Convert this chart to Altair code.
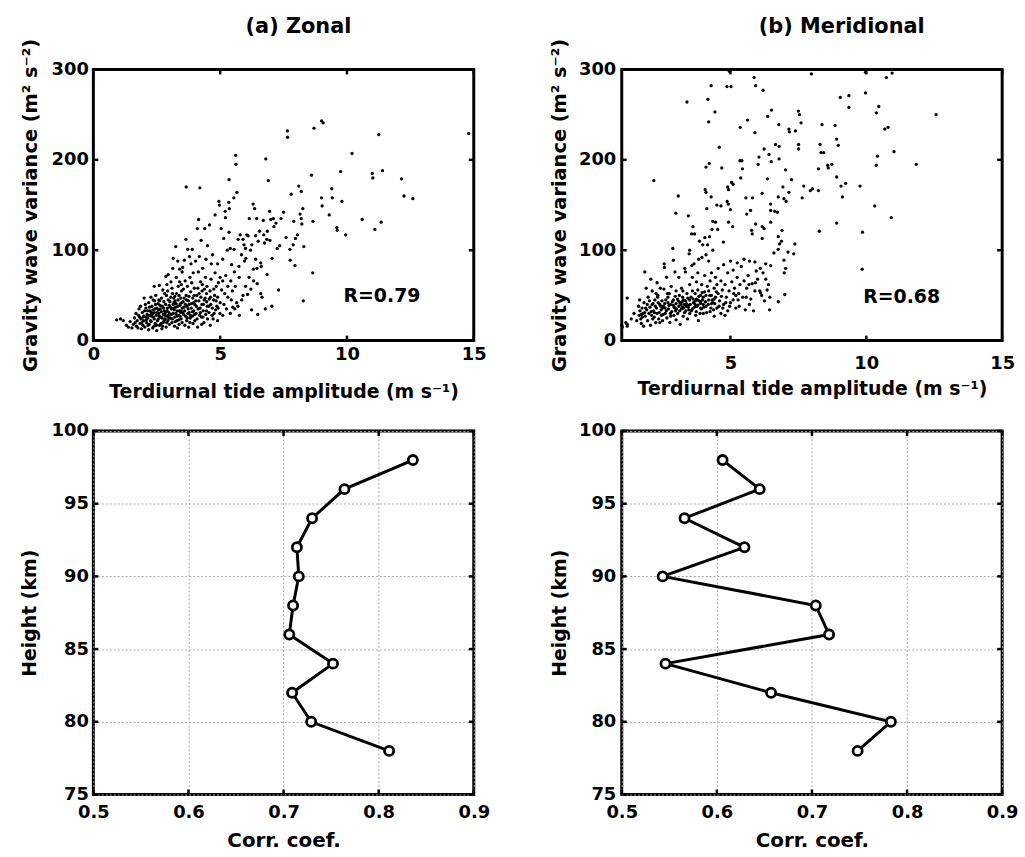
import altair as alt
import pandas as pd

FONT = "DejaVu Sans"

# ---------------- data ----------------
zonal_points = [
    (0.92, 23), (1.07, 24), (1.18, 22), (1.3, 17), (1.38, 15), (1.45, 21), (1.52, 14), (1.58, 18),
    (1.62, 25), (1.65, 20), (1.7, 16), (1.73, 22), (1.78, 28), (1.8, 35), (1.84, 19), (1.88, 24),
    (1.9, 13), (1.93, 31), (1.95, 17), (1.98, 22), (2.0, 47), (1.99, 27), (1.68, 30), (1.76, 14),
    (1.86, 38), (1.96, 26),
    (2.03, 15), (2.07, 36), (2.1, 20), (2.12, 29), (2.15, 25), (2.18, 42), (2.2, 18), (2.23, 33),
    (2.26, 22), (2.3, 27), (2.31, 38), (2.34, 14), (2.36, 45), (2.4, 24), (2.41, 31), (2.44, 19),
    (2.46, 50), (2.48, 28), (2.5, 36), (2.5, 11), (2.05, 40), (2.14, 33), (2.28, 21), (2.39, 16),
    (2.4, 60), (2.22, 28), (2.33, 30), (2.45, 40), (2.08, 26), (2.18, 12), (2.27, 48), (2.43, 35),
    (2.53, 22), (2.55, 41), (2.58, 30), (2.6, 61), (2.61, 17), (2.64, 35), (2.66, 26), (2.69, 47),
    (2.7, 13), (2.72, 38), (2.75, 20), (2.76, 29), (2.8, 33), (2.81, 52), (2.83, 24), (2.85, 40),
    (2.86, 71), (2.87, 15), (2.9, 27), (2.9, 62), (2.92, 36), (2.94, 22), (2.95, 45), (2.95, 73),
    (2.98, 31), (3.0, 18), (2.62, 44), (2.74, 56), (2.84, 31), (2.96, 28), (2.57, 34), (2.67, 19),
    (2.78, 43), (2.88, 50), (2.99, 39), (2.71, 25), (2.93, 55), (2.6, 27),
    (3.03, 25), (3.05, 48), (3.08, 35), (3.1, 20), (3.1, 58), (3.13, 80), (3.14, 30), (3.15, 91),
    (3.18, 42), (3.2, 16), (3.21, 26), (3.24, 37), (3.25, 104), (3.28, 52), (3.3, 22), (3.31, 33),
    (3.33, 88), (3.34, 45), (3.36, 28), (3.38, 18), (3.4, 65), (3.4, 79), (3.41, 39), (3.44, 31),
    (3.46, 24), (3.48, 55), (3.5, 36), (3.5, 76), (3.5, 20), (3.15, 40), (3.25, 30), (3.35, 60),
    (3.45, 47), (3.06, 65), (3.12, 52), (3.22, 44), (3.27, 70), (3.32, 14), (3.38, 50), (3.43, 41),
    (3.47, 62), (3.19, 34),
    (3.52, 81), (3.54, 43), (3.56, 29), (3.59, 89), (3.6, 33), (3.61, 17), (3.65, 112), (3.66, 170),
    (3.66, 50), (3.69, 38), (3.7, 25), (3.71, 60), (3.72, 101), (3.75, 44), (3.78, 31), (3.79, 93),
    (3.8, 20), (3.81, 70), (3.84, 54), (3.86, 36), (3.9, 101), (3.9, 27), (3.92, 47), (3.94, 75),
    (3.96, 33), (3.98, 58), (4.0, 22), (4.0, 40), (3.58, 47), (3.74, 35), (3.85, 85), (3.95, 42),
    (3.55, 57), (3.63, 40), (3.68, 22), (3.77, 49), (3.83, 28), (3.88, 64), (3.93, 19), (3.97, 50),
    (3.62, 66), (3.76, 15),
    (4.03, 88), (4.05, 30), (4.08, 50), (4.1, 124), (4.11, 15), (4.15, 134), (4.16, 44), (4.18, 93),
    (4.2, 169), (4.21, 36), (4.23, 65), (4.25, 111), (4.26, 26), (4.29, 55), (4.31, 80), (4.34, 40),
    (4.36, 20), (4.39, 124), (4.41, 47), (4.44, 90), (4.46, 33), (4.48, 60), (4.5, 24), (4.5, 105),
    (4.14, 76), (4.3, 62), (4.42, 70), (4.27, 18), (4.46, 52), (4.06, 38), (4.12, 58), (4.19, 28),
    (4.24, 48), (4.33, 33), (4.38, 57), (4.47, 43),
    (4.55, 38), (4.58, 128), (4.6, 55), (4.61, 17), (4.64, 68), (4.68, 28), (4.7, 95), (4.74, 45),
    (4.8, 139), (4.8, 75), (4.82, 34), (4.85, 60), (4.9, 22), (4.9, 85), (4.95, 154), (4.97, 150),
    (5.0, 42), (5.0, 70), (4.65, 85), (4.75, 57), (4.9, 48), (4.99, 30), (4.57, 46), (4.63, 40),
    (4.72, 24), (4.78, 50), (4.87, 38), (4.93, 64),
    (5.04, 124), (5.06, 56), (5.1, 90), (5.1, 28), (5.14, 113), (5.15, 40), (5.2, 143), (5.21, 136),
    (5.22, 72), (5.25, 35), (5.28, 100), (5.3, 48), (5.34, 153), (5.36, 146), (5.35, 120), (5.35, 178),
    (5.4, 102), (5.42, 66), (5.4, 30), (5.45, 84), (5.48, 55), (5.5, 37), (5.1, 66), (5.3, 60),
    (5.18, 52), (5.44, 45),
    (5.54, 158), (5.55, 101), (5.56, 76), (5.61, 205), (5.62, 195), (5.6, 60), (5.58, 35), (5.66, 164),
    (5.65, 42), (5.7, 38), (5.71, 112), (5.74, 82), (5.75, 70), (5.79, 117), (5.84, 95), (5.9, 112),
    (5.9, 50), (5.94, 106), (5.96, 88), (6.0, 102), (6.01, 91), (6.0, 60), (5.76, 28), (5.85, 45),
    (6.05, 117), (6.1, 116), (6.08, 51), (6.14, 70), (6.15, 135), (6.2, 100), (6.21, 57), (6.25, 106),
    (6.24, 34), (6.3, 151), (6.31, 79), (6.32, 66), (6.36, 146), (6.4, 116), (6.44, 135), (6.45, 80),
    (6.46, 63), (6.5, 110), (6.48, 29), (6.4, 90),
    (6.55, 121), (6.6, 86), (6.62, 82), (6.6, 52), (6.65, 48), (6.7, 133), (6.72, 117), (6.75, 108),
    (6.8, 201), (6.78, 35), (6.84, 112), (6.86, 121), (6.85, 73), (6.9, 177), (6.95, 143), (6.96, 111),
    (7.0, 134),
    (7.05, 91), (7.04, 38), (7.1, 135), (7.12, 126), (7.2, 130), (7.25, 102), (7.3, 56), (7.35, 105),
    (7.4, 135), (7.5, 142), (7.6, 114), (7.65, 232), (7.66, 225), (7.75, 101), (7.76, 89), (7.8, 162),
    (7.88, 106), (7.9, 132), (7.95, 83), (7.97, 113),
    (8.05, 117), (8.1, 171), (8.15, 140), (8.2, 135), (8.22, 129), (8.2, 165), (8.26, 146), (8.3, 104),
    (8.28, 44), (8.6, 183), (8.65, 75), (8.66, 132), (8.7, 235), (9.0, 243), (9.06, 241), (9.0, 158),
    (9.02, 149), (9.3, 139), (9.4, 168), (9.42, 158), (9.6, 125), (9.62, 122), (9.75, 187), (9.8, 154),
    (9.95, 117),
    (10.2, 207), (10.6, 134), (11.0, 185), (11.02, 180), (11.1, 123), (11.25, 228), (11.35, 131),
    (11.4, 188), (12.15, 179), (12.25, 160), (12.6, 157), (14.8, 229),
    # denser core of the cloud
    (1.82, 26), (1.91, 20), (2.02, 33), (2.09, 23), (2.16, 17), (2.21, 37), (2.29, 31), (2.37, 26),
    (2.42, 44), (2.49, 17), (2.52, 31), (2.56, 24), (2.63, 39), (2.68, 32), (2.73, 16), (2.77, 36),
    (2.82, 28), (2.89, 20), (2.91, 33), (2.97, 25), (3.02, 43), (3.07, 29), (3.11, 24), (3.16, 36),
    (3.17, 47), (3.23, 21), (3.26, 41), (3.29, 27), (3.33, 38), (3.37, 23), (3.39, 33), (3.42, 27),
    (3.49, 42), (3.53, 31), (3.57, 37), (3.64, 27), (3.67, 45), (3.73, 30), (3.78, 40), (3.82, 25),
    (3.87, 41), (3.91, 32), (3.99, 29), (4.04, 44), (4.09, 24), (4.13, 35), (4.17, 52), (4.22, 31),
    (4.28, 40), (4.32, 26), (4.37, 45), (4.43, 29), (4.49, 38), (4.56, 31), (4.62, 48), (4.69, 36),
    (4.76, 30), (4.84, 44), (4.92, 36), (2.35, 34), (2.58, 45), (2.79, 22), (3.04, 37), (3.21, 49),
    (3.46, 33),
]

merid_points = [
    (1.0, 17), (1.02, 15), (1.15, 20), (1.2, 16), (1.2, 18), (1.2, 47), (1.35, 24), (1.45, 30), (1.55, 22),
    (1.62, 38), (1.64, 28), (1.67, 33), (1.7, 24), (1.72, 19), (1.75, 36), (1.78, 30), (1.8, 16),
    (1.82, 42), (1.85, 76), (1.86, 27), (1.9, 58), (1.92, 34), (1.95, 22), (1.97, 48), (1.66, 45),
    (1.76, 26), (1.84, 31), (1.94, 40), (2.0, 30),
    (2.04, 37), (2.06, 17), (2.07, 68), (2.1, 28), (2.12, 55), (2.15, 41), (2.17, 33), (2.2, 26),
    (2.22, 45), (2.25, 20), (2.28, 36), (2.3, 64), (2.3, 30), (2.33, 50), (2.36, 24), (2.4, 40),
    (2.42, 58), (2.45, 34), (2.46, 28), (2.48, 44), (2.5, 22), (2.12, 40), (2.2, 31), (2.32, 48),
    (2.4, 20), (2.5, 36), (2.18, 177), (2.26, 52),
    (2.53, 38), (2.55, 57), (2.56, 85), (2.57, 81), (2.6, 30), (2.62, 45), (2.65, 70), (2.66, 25),
    (2.7, 42), (2.72, 35), (2.75, 52), (2.77, 20), (2.8, 40), (2.82, 60), (2.84, 32), (2.88, 102),
    (2.9, 89), (2.9, 45), (2.92, 28), (2.95, 36), (2.96, 76), (2.99, 141), (3.0, 41), (3.0, 55),
    (3.0, 23), (2.6, 36), (2.7, 48), (2.8, 27), (2.9, 39), (2.98, 33),
    (3.05, 46), (3.06, 30), (3.08, 160), (3.1, 38), (3.1, 70), (3.14, 42), (3.15, 18), (3.2, 35),
    (3.2, 58), (3.24, 48), (3.26, 27), (3.3, 40), (3.32, 80), (3.34, 76), (3.35, 44), (3.36, 33),
    (3.4, 52), (3.4, 264), (3.42, 24), (3.45, 138), (3.45, 37), (3.48, 96), (3.5, 100), (3.5, 45),
    (3.5, 62), (3.5, 30), (3.12, 50), (3.22, 43), (3.28, 36), (3.38, 41), (3.46, 39), (3.25, 55),
    (3.55, 48), (3.57, 118), (3.6, 35), (3.62, 126), (3.6, 70), (3.64, 42), (3.66, 85), (3.68, 118),
    (3.7, 52), (3.72, 28), (3.75, 46), (3.76, 38), (3.8, 56), (3.8, 75), (3.82, 22), (3.85, 44),
    (3.86, 110), (3.9, 50), (3.9, 36), (3.94, 62), (3.95, 92), (4.0, 40), (4.0, 48), (4.0, 30),
    (3.6, 55), (3.7, 40), (3.8, 45), (3.9, 43), (3.96, 53), (3.75, 65), (3.58, 83), (3.83, 90),
    (3.88, 30), (3.98, 106),
    (4.05, 54), (4.06, 114), (4.07, 167), (4.1, 164), (4.1, 95), (4.1, 38), (4.1, 192), (4.13, 146),
    (4.15, 60), (4.16, 106), (4.17, 267), (4.2, 45), (4.2, 88), (4.22, 196), (4.2, 242), (4.25, 66),
    (4.25, 32), (4.29, 159), (4.29, 282), (4.3, 50), (4.3, 75), (4.32, 123), (4.35, 42), (4.35, 100),
    (4.35, 132), (4.4, 58), (4.4, 27), (4.43, 253), (4.45, 70), (4.45, 48), (4.5, 62), (4.5, 36),
    (4.1, 50), (4.2, 55), (4.3, 41), (4.4, 46), (4.05, 72), (4.23, 115), (4.45, 131), (4.5, 150),
    (4.53, 123), (4.55, 80), (4.55, 52), (4.59, 214), (4.6, 44), (4.65, 149), (4.65, 66), (4.65, 30),
    (4.68, 191), (4.7, 56), (4.74, 109), (4.75, 84), (4.75, 40), (4.8, 62), (4.8, 28), (4.85, 48),
    (4.87, 281), (4.88, 154), (4.9, 170), (4.9, 75), (4.9, 33), (4.92, 151), (4.93, 167), (4.93, 131),
    (4.95, 55), (4.96, 298), (5.0, 145), (5.0, 88),
    (5.0, 42), (5.02, 281), (5.04, 175), (5.05, 65), (5.08, 126), (5.1, 173), (5.1, 78), (5.1, 45),
    (5.15, 58), (5.2, 36), (5.25, 86), (5.25, 70), (5.3, 52), (5.35, 199), (5.35, 62), (5.36, 236),
    (5.38, 180), (5.4, 82), (5.42, 199), (5.44, 190), (5.45, 48), (5.5, 90), (5.5, 66), (5.2, 50),
    (5.55, 34), (5.57, 158), (5.6, 140), (5.6, 58), (5.63, 244), (5.65, 72), (5.7, 88), (5.74, 144),
    (5.75, 46), (5.78, 122), (5.8, 118), (5.81, 158), (5.8, 63), (5.85, 33), (5.87, 291), (5.9, 230),
    (5.9, 87), (5.9, 55), (5.93, 282), (5.93, 129), (5.95, 77), (6.0, 68), (5.7, 40), (6.02, 195),
    (6.05, 203), (6.08, 55), (6.1, 80), (6.11, 53), (6.15, 50), (6.17, 163), (6.17, 126), (6.17, 113),
    (6.2, 277), (6.2, 75), (6.24, 212), (6.24, 124), (6.25, 44), (6.3, 85), (6.3, 68), (6.35, 56),
    (6.36, 179), (6.37, 248), (6.42, 206), (6.44, 34), (6.45, 48), (6.48, 151), (6.48, 144),
    (6.48, 131), (6.48, 83), (6.4, 62), (6.5, 198), (6.51, 255),
    (6.63, 143), (6.66, 217), (6.73, 142), (6.76, 159), (6.76, 115), (6.76, 101), (6.76, 43),
    (6.78, 239), (6.79, 215), (6.79, 201), (6.81, 107), (6.88, 110), (6.93, 170), (6.97, 157),
    (6.97, 89), (6.98, 75), (7.0, 51), (7.03, 189), (7.03, 80), (7.05, 154), (6.6, 97), (6.9, 122),
    (7.12, 98), (7.15, 234), (7.15, 164), (7.17, 231), (7.25, 178), (7.33, 96), (7.37, 107),
    (7.39, 232), (7.5, 254), (7.51, 217), (7.51, 212), (7.54, 250), (7.6, 241), (7.64, 158),
    (7.7, 171), (7.94, 166), (7.98, 295), (8.02, 168),
    (8.24, 190), (8.24, 166), (8.27, 121), (8.3, 217), (8.33, 208), (8.37, 239), (8.43, 208),
    (8.58, 194), (8.6, 191), (8.73, 195), (8.85, 238), (8.91, 223), (8.91, 181), (8.91, 130),
    (8.97, 216), (9.04, 269), (9.07, 171), (9.12, 159), (9.24, 174), (9.36, 271), (9.36, 258),
    (9.77, 171), (9.85, 79), (9.86, 120),
    (9.97, 274), (9.97, 297), (10.31, 149), (10.37, 252), (10.37, 194), (10.41, 204), (10.46, 259),
    (10.68, 234), (10.74, 291), (10.8, 236), (10.92, 136), (10.95, 296), (11.02, 209), (11.84, 195),
    (12.57, 250),
    # denser core of the cloud
    (1.72, 29), (1.88, 36), (2.02, 44), (2.08, 32), (2.14, 24), (2.24, 38), (2.34, 42), (2.38, 31),
    (2.44, 38), (2.52, 29), (2.58, 41), (2.64, 33), (2.68, 52), (2.74, 39), (2.79, 30), (2.86, 43),
    (2.93, 37), (2.97, 49), (3.02, 35), (3.08, 44), (3.13, 33), (3.18, 40), (3.23, 37), (3.27, 45),
    (3.31, 31), (3.37, 38), (3.43, 47), (3.47, 34), (3.52, 40), (3.56, 33), (3.63, 46), (3.67, 37),
    (3.71, 44), (3.74, 32), (3.79, 39), (3.84, 49), (3.89, 41), (3.93, 35), (3.97, 45), (4.02, 37),
    (4.08, 43), (4.12, 31), (4.18, 40), (4.24, 50), (4.28, 36), (4.33, 45), (4.38, 34), (4.42, 41),
    (4.48, 54), (4.58, 38), (4.67, 49), (4.72, 36), (4.83, 42), (4.97, 38), (5.12, 52), (5.28, 45),
    (5.32, 38), (5.58, 48), (5.68, 62), (5.92, 64),
]

heights = [98, 96, 94, 92, 90, 88, 86, 84, 82, 80, 78]
zonal_corr = [0.836, 0.764, 0.730, 0.714, 0.716, 0.710, 0.706, 0.752, 0.709, 0.729, 0.811]
merid_corr = [0.606, 0.645, 0.566, 0.629, 0.543, 0.704, 0.718, 0.546, 0.657, 0.783, 0.748]

zonal_amp_ticks = [0, 5, 10, 15]
merid_amp_ticks = [5, 10, 15]
variance_ticks = [0, 100, 200, 300]
corr_ticks = [0.5, 0.6, 0.7, 0.8, 0.9]
height_ticks = [75, 80, 85, 90, 95, 100]

zonal_r_label = ("R=0.79", 11.38, 49)
merid_r_label = ("R=0.68", 11.3, 48)

# ---------------- layout constants ----------------
W = 383
H_TOP = 273
H_BOT = 366


def inner_ticks(xvals, yvals, xenc, yenc, w, h, L=5):
    xdf = pd.DataFrame({xenc.shorthand.split(":")[0]: xvals})
    ydf = pd.DataFrame({yenc.shorthand.split(":")[0]: yvals})
    st = dict(color="black", strokeWidth=2.5)
    return [
        alt.Chart(xdf).mark_rule(**st).encode(x=xenc, y=alt.value(h), y2=alt.value(h - L)),
        alt.Chart(xdf).mark_rule(**st).encode(x=xenc, y=alt.value(0), y2=alt.value(L)),
        alt.Chart(ydf).mark_rule(**st).encode(y=yenc, x=alt.value(0), x2=alt.value(L)),
        alt.Chart(ydf).mark_rule(**st).encode(y=yenc, x=alt.value(w), x2=alt.value(w - L)),
    ]


GRID = dict(gridDash=[2, 2], gridColor="#a8a8a8", gridWidth=1, gridOpacity=1)


def x_axis(values, title, w, label_pad, title_y, fmt=None, grid=False, title_size=19):
    kw = dict(
        values=values, title=title, grid=grid, ticks=False, domain=False, labelFlush=False,
        labelPadding=label_pad, titleX=w / 2, titleY=title_y, titleAlign="center",
        titleBaseline="alphabetic", titleFontSize=title_size,
    )
    if fmt:
        kw["format"] = fmt
    if grid:
        kw.update(GRID)
    return alt.Axis(**kw)


def y_axis(values, title, h, label_pad, title_x, grid=False, title_size=19):
    kw = dict(
        values=values, title=title, grid=grid, ticks=False, domain=False, labelFlush=False,
        labelPadding=label_pad, titleX=title_x, titleY=h / 2, titleAngle=270,
        titleAlign="center", titleBaseline="middle", titleFontSize=title_size,
    )
    if grid:
        kw.update(GRID)
    return alt.Axis(**kw)


def scatter_panel(points, xdomain, xticks, title, dx, ytitle, xtitle, rlabel,
                  xlabel_pad, xtitle_y, ylabel_pad, ytitle_x):
    df = pd.DataFrame(points, columns=["amp", "var"])
    xsc = alt.Scale(domain=xdomain, nice=False, zero=False)
    ysc = alt.Scale(domain=[0, 300], nice=False, zero=False)
    xenc = alt.X("amp:Q", scale=xsc, axis=x_axis(xticks, xtitle, W, xlabel_pad, xtitle_y))
    yenc = alt.Y("var:Q", scale=ysc,
                 axis=y_axis(variance_ticks, ytitle, H_TOP, ylabel_pad, ytitle_x, title_size=19.5))
    pts = alt.Chart(df).mark_circle(size=11, color="black", opacity=1).encode(x=xenc, y=yenc)
    rdf = pd.DataFrame({"label": [rlabel[0]], "amp": [rlabel[1]], "var": [rlabel[2]]})
    txt = alt.Chart(rdf).mark_text(
        font=FONT, fontSize=19, fontWeight="bold", color="black", align="center", baseline="middle"
    ).encode(x=xenc, y=yenc, text="label:N")
    layers = [pts, txt] + inner_ticks(xticks, variance_ticks, xenc, yenc, W, H_TOP)
    return alt.layer(*layers).properties(
        width=W, height=H_TOP,
        title=alt.TitleParams(
            text=title, font=FONT, fontSize=21, fontWeight="bold", color="black",
            frame="group", anchor="middle", baseline="alphabetic", offset=-16, dx=dx,
        ),
    )


def profile_panel(corr, xlabel_pad, xtitle_y, ylabel_pad, ytitle_x):
    df = pd.DataFrame({"corr": corr, "h": heights})
    xsc = alt.Scale(domain=[0.5, 0.9], nice=False, zero=False)
    ysc = alt.Scale(domain=[75, 100], nice=False, zero=False)
    xenc = alt.X("corr:Q", scale=xsc,
                 axis=x_axis(corr_ticks, "Corr. coef.", W, xlabel_pad, xtitle_y, fmt=".1f",
                             grid=True, title_size=20))
    yenc = alt.Y("h:Q", scale=ysc,
                 axis=y_axis(height_ticks, "Height (km)", H_BOT, ylabel_pad, ytitle_x, grid=True))
    line = alt.Chart(df).mark_line(color="black", strokeWidth=3).encode(
        x=xenc, y=yenc, order=alt.Order("h:Q"),
    )
    pts = alt.Chart(df).mark_point(
        shape="circle", filled=True, fill="white", stroke="black", strokeWidth=2.8,
        size=85, opacity=1, fillOpacity=1, strokeOpacity=1,
    ).encode(x=xenc, y=yenc)
    layers = [line, pts] + inner_ticks(corr_ticks, height_ticks, xenc, yenc, W, H_BOT)
    return alt.layer(*layers).properties(width=W, height=H_BOT)


ytitle_var = "Gravity wave variance (m\u00b2 s\u207b\u00b2)"
xtitle_amp = "Terdiurnal tide amplitude (m s\u207b\u00b9)"

tl = scatter_panel(zonal_points, [0, 15], zonal_amp_ticks, "(a) Zonal", 15,
                   ytitle_var, xtitle_amp, zonal_r_label, 5, 57, 5, -63)
tr = scatter_panel(merid_points, [1, 15], merid_amp_ticks, "(b) Meridional", 30,
                   ytitle_var, xtitle_amp, merid_r_label, 14, 54, 6, -63)
bl = profile_panel(zonal_corr, 9, 52, 5, -64)
br = profile_panel(merid_corr, 9, 52, 6, -63)

chart = alt.concat(
    tl, tr, bl, br, columns=2, spacing={"row": 91, "column": 149}, bounds="flush", align="each"
).properties(
    padding={"left": 19, "top": 12, "right": 5, "bottom": 2},
    background="white",
).configure_view(
    stroke="black", strokeWidth=3,
).configure_axis(
    labelFont=FONT, labelFontSize=18, labelFontWeight="bold", labelColor="black",
    titleFont=FONT, titleFontSize=19, titleFontWeight="bold", titleColor="black",
)

chart.save("out.html", embed_options={"renderer": "svg", "actions": False})
